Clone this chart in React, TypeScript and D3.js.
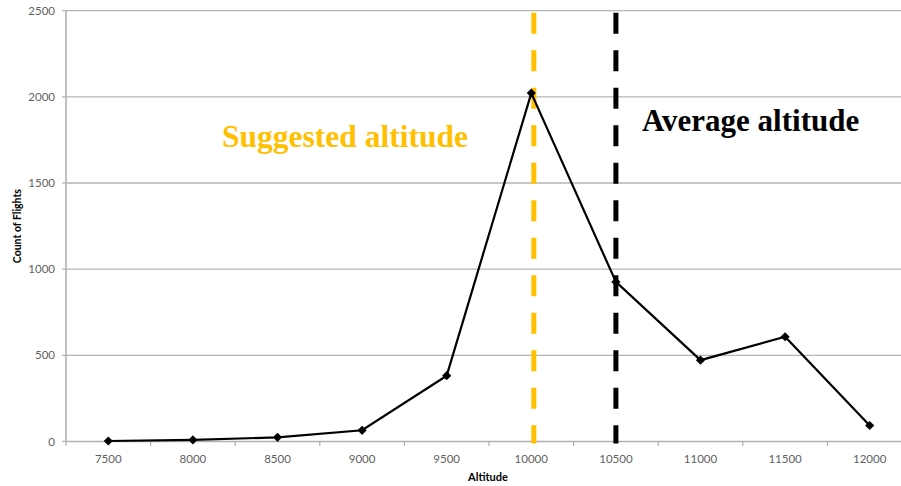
import React from "react";
import * as d3 from "d3";

const categories: number[] = [7500, 8000, 8500, 9000, 9500, 10000, 10500, 11000, 11500, 12000];
const flightCounts: number[] = [3, 9, 24, 65, 382, 2022, 926, 472, 608, 93];
const yTicks: number[] = [0, 500, 1000, 1500, 2000, 2500];
const suggestedAltitude = 10015;
const averageAltitude = 10500;
const suggestedLabel = "Suggested altitude";
const averageLabel = "Average altitude";
const xTitle = "Altitude";
const yTitle = "Count of Flights";

const W = 901;
const H = 486;
const left = 66;
const band = 84.6;
const right = left + band * categories.length;
const top = 10.7;
const bottom = 441.5;

export default function App() {
  const x = d3
    .scaleBand<number>()
    .domain(categories)
    .range([left, right])
    .paddingInner(0)
    .paddingOuter(0);
  const xc = (v: number) => (x(v) as number) + x.bandwidth() / 2;
  const xLin = d3
    .scaleLinear()
    .domain([categories[0], categories[categories.length - 1]])
    .range([xc(categories[0]), xc(categories[categories.length - 1])]);
  const y = d3.scaleLinear().domain([0, 2500]).range([bottom, top]);

  const line = d3
    .line<number>()
    .x((_, i) => xc(categories[i]))
    .y((d) => y(d));

  const tickFont = "Lato, 'Open Sans', sans-serif";
  const serif = "'Liberation Serif', 'Times New Roman', serif";
  const boundaries = d3.range(categories.length + 1).map((i) => left + i * x.bandwidth());

  const marker = d3.symbol().type(d3.symbolSquare).size(42)();

  return (
    <svg
      width={W}
      height={H}
      style={{ position: "absolute", left: 0, top: 0, background: "#fff" }}
    >
      <rect x={0} y={0} width={W} height={H} fill="#fff" />
      {/* gridlines */}
      {yTicks.slice(1).map((t) => (
        <line key={t} x1={left} x2={right} y1={y(t)} y2={y(t)} stroke="#b5b5b5" strokeWidth={1.3} />
      ))}
      {/* y ticks + labels */}
      {yTicks.map((t) => (
        <g key={"yt" + t}>
          <line x1={left - 4} x2={left} y1={y(t)} y2={y(t)} stroke="#b0b0b0" strokeWidth={1.2} />
          <text
            x={55}
            y={y(t)}
            dy="0.35em"
            textAnchor="end"
            fontFamily={tickFont}
            fontSize={11.5}
            fill="#5f5f5f"
          >
            {t}
          </text>
        </g>
      ))}
      {/* axes */}
      <line x1={left} x2={left} y1={top} y2={bottom} stroke="#b0b0b0" strokeWidth={1.6} />
      <line x1={left} x2={right} y1={bottom} y2={bottom} stroke="#b0b0b0" strokeWidth={1.6} />
      {boundaries.map((b, i) => (
        <line key={"xt" + i} x1={b} x2={b} y1={bottom} y2={bottom + 4.5} stroke="#b0b0b0" strokeWidth={1.2} />
      ))}
      {categories.map((c) => (
        <text
          key={"xl" + c}
          x={xc(c)}
          y={463}
          textAnchor="middle"
          fontFamily={tickFont}
          fontSize={11.5}
          fill="#5f5f5f"
        >
          {c}
        </text>
      ))}
      {/* axis titles */}
      <text x={488} y={481} textAnchor="middle" fontFamily={tickFont} fontWeight="bold" fontSize={11} fill="#000">
        {xTitle}
      </text>
      <text
        transform={`translate(21, ${(top + bottom) / 2}) rotate(-90)`}
        textAnchor="middle"
        fontFamily={tickFont}
        fontWeight="bold"
        fontSize={10.5}
        fill="#000"
      >
        {yTitle}
      </text>
      {/* reference lines */}
      <line
        x1={xLin(suggestedAltitude)}
        x2={xLin(suggestedAltitude)}
        y1={top + 2}
        y2={bottom + 2}
        stroke="#FFC000"
        strokeWidth={5}
        strokeDasharray="21 16.5"
      />
      <line
        x1={xLin(averageAltitude)}
        x2={xLin(averageAltitude)}
        y1={top + 2}
        y2={bottom + 2}
        stroke="#000"
        strokeWidth={5}
        strokeDasharray="21 16.5"
      />
      {/* data line */}
      <path d={line(flightCounts) || ""} fill="none" stroke="#000" strokeWidth={2.2} />
      {flightCounts.map((v, i) => (
        <path
          key={"m" + i}
          d={marker || ""}
          transform={`translate(${xc(categories[i])}, ${y(v)}) rotate(45)`}
          fill="#000"
        />
      ))}
      {/* annotations */}
      <text x={222} y={147} fontFamily={serif} fontWeight="bold" fontSize={31.5} fill="#FFC000">
        {suggestedLabel}
      </text>
      <text x={642} y={131} fontFamily={serif} fontWeight="bold" fontSize={31} fill="#000">
        {averageLabel}
      </text>
    </svg>
  );
}
